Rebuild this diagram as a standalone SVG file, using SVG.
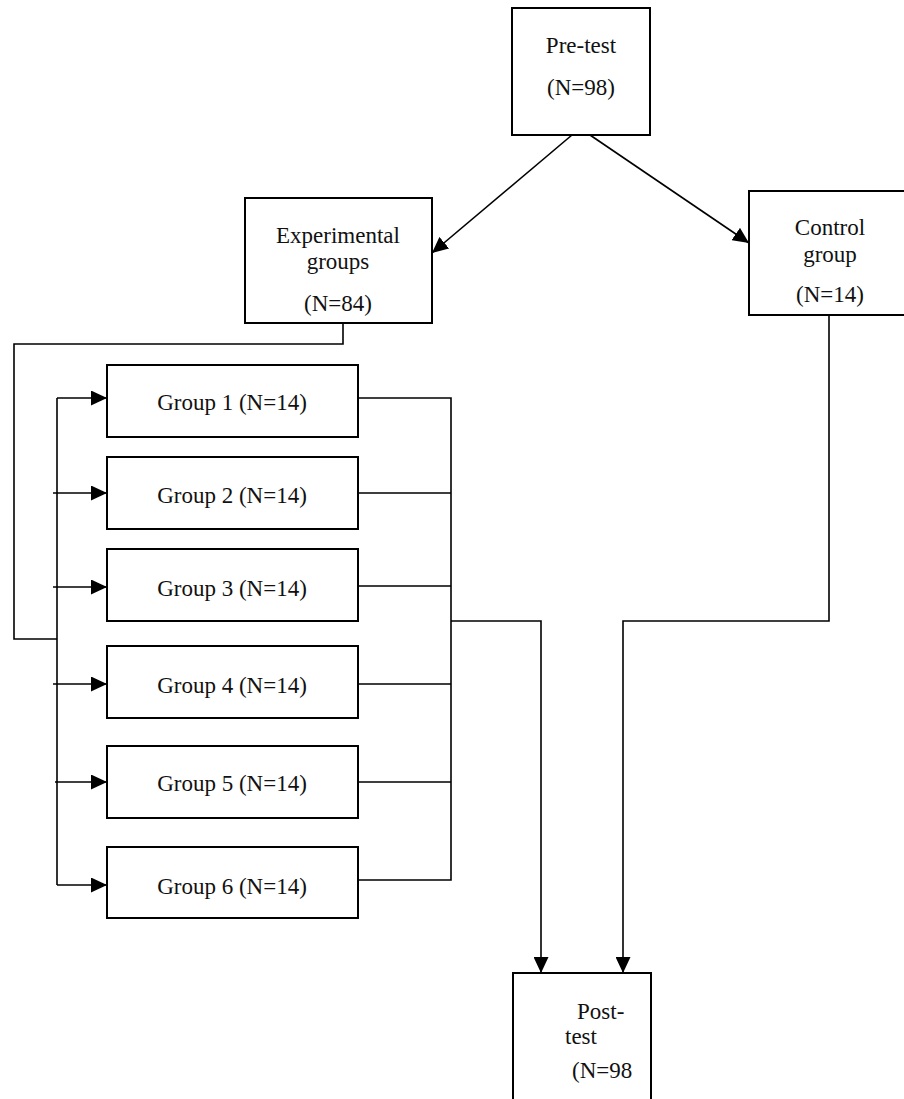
<svg xmlns="http://www.w3.org/2000/svg" width="904" height="1099" viewBox="0 0 904 1099">
<style>
.box{fill:#fff;stroke:#000;stroke-width:2}
.t{font-family:"Liberation Serif","Times New Roman",serif;font-size:23px;fill:#111}
.c{text-anchor:middle}
.ln{fill:none;stroke:#000;stroke-width:1.6}
.ar{fill:none;stroke:#000;stroke-width:1.6;marker-end:url(#ah)}
</style>
<defs>
<marker id="ah" viewBox="0 0 16 15" refX="16" refY="7.5" markerWidth="16" markerHeight="15" markerUnits="userSpaceOnUse" orient="auto">
<path d="M0,0 L16,7.5 L0,15 z" fill="#000"/>
</marker>
</defs>
<rect width="904" height="1099" fill="#fff"/>
<g id="connectors">
<path class="ar" d="M572,135 L432,253"/>
<path class="ar" d="M590,135 L749,243"/>
<path class="ln" d="M343,323 V344 H14 V639 H57"/>
<path class="ln" d="M57,398 V885"/>
<path class="ar" d="M57,398 H107"/>
<path class="ar" d="M53,493 H107"/>
<path class="ar" d="M53,587 H107"/>
<path class="ar" d="M53,684 H107"/>
<path class="ar" d="M55,782 H107"/>
<path class="ar" d="M57,885 H107"/>
<path class="ln" d="M358,398 H451 V880 H358"/>
<path class="ln" d="M358,493 H451 M358,586 H451 M358,684 H451 M358,782 H451"/>
<path class="ar" d="M451,621 H541 V973"/>
<path class="ar" d="M829,315 V621 H623 V973"/>
</g>
<g id="pretest">
<rect class="box" x="512" y="8" width="138" height="127"/>
<text class="t c" x="581" y="53">Pre-test</text>
<text class="t c" x="581" y="95">(N=98)</text>
</g>
<g id="experimental">
<rect class="box" x="245" y="198" width="187" height="125"/>
<text class="t c" x="338" y="243">Experimental</text>
<text class="t c" x="338" y="269">groups</text>
<text class="t c" x="338" y="311">(N=84)</text>
</g>
<g id="control">
<rect class="box" x="749" y="191" width="165" height="124"/>
<text class="t c" x="830" y="235">Control</text>
<text class="t c" x="830" y="262">group</text>
<text class="t c" x="830" y="302">(N=14)</text>
</g>
<g id="group1"><rect class="box" x="107" y="365" width="251" height="72"/><text class="t c" x="232" y="410">Group 1 (N=14)</text></g>
<g id="group2"><rect class="box" x="107" y="457" width="251" height="72"/><text class="t c" x="232" y="503">Group 2 (N=14)</text></g>
<g id="group3"><rect class="box" x="107" y="549" width="251" height="72"/><text class="t c" x="232" y="596">Group 3 (N=14)</text></g>
<g id="group4"><rect class="box" x="107" y="646" width="251" height="72"/><text class="t c" x="232" y="693">Group 4 (N=14)</text></g>
<g id="group5"><rect class="box" x="107" y="746" width="251" height="72"/><text class="t c" x="232" y="791">Group 5 (N=14)</text></g>
<g id="group6"><rect class="box" x="107" y="847" width="251" height="71"/><text class="t c" x="232" y="894">Group 6 (N=14)</text></g>
<g id="posttest">
<rect class="box" x="513" y="973" width="138" height="140"/>
<text class="t" x="577" y="1019">Post-</text>
<text class="t" x="565" y="1044">test</text>
<text class="t" x="572" y="1078">(N=98</text>
</g>
</svg>
